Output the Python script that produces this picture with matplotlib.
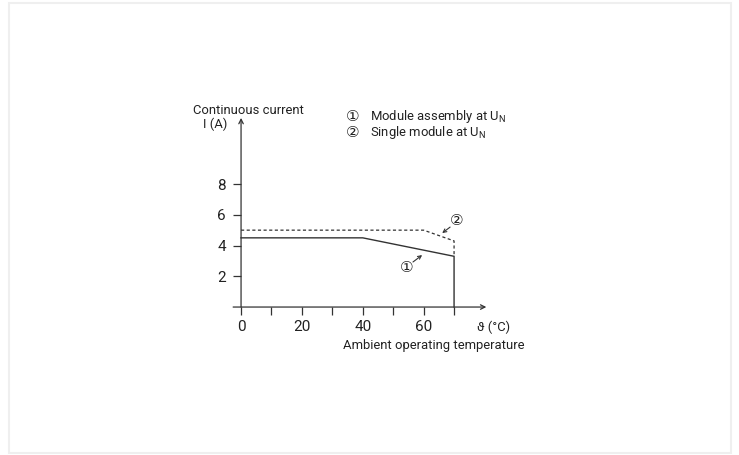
import matplotlib
matplotlib.use("Agg")
import matplotlib.pyplot as plt
from matplotlib.patches import Rectangle

plt.rcParams['font.family'] = ['Roboto', 'DejaVu Sans']
plt.rcParams['mathtext.fontset'] = 'custom'
plt.rcParams['mathtext.rm'] = 'Roboto'

# curve 1: module assembly, curve 2: single module
temp_1 = [0, 40, 70, 70]
current_1 = [4.5, 4.5, 3.3, 0]
temp_2 = [0, 60, 70, 70]
current_2 = [5.0, 5.0, 4.3, 3.3]

x_ticks = [0, 10, 20, 30, 40, 50, 60, 70]
x_labels = ["0", "", "20", "", "40", "", "60", ""]
y_ticks = [2, 4, 6, 8]
y_labels = ["2", "4", "6", "8"]

legend_items = [("①", "Module assembly at $\\mathregular{U_N}$"),
                ("②", "Single module at $\\mathregular{U_N}$")]

col = "#333333"
txt = "#222222"
fs = 9.4

fig = plt.figure(figsize=(7.39, 4.55), dpi=100)
fig.patches.append(Rectangle((8.5 / 739, 2.5 / 455), 722 / 739, 450 / 455,
                             transform=fig.transFigure, fill=False,
                             edgecolor="#efefef", lw=1.5))
ax = fig.add_axes([0.3056, 0.2914, 0.3706, 0.4731])
ax.set_xlim(-5, 85)
ax.set_ylim(-1, 13)
ax.spines['bottom'].set_position(('data', 0))
ax.spines['left'].set_position(('data', 0))
for s in ax.spines.values():
    s.set_visible(False)
ax.patch.set_alpha(0)

# axes with arrows
ax.annotate("", xy=(80.6, 0), xytext=(-2.6, 0),
            arrowprops=dict(arrowstyle="->", color=col, lw=0.9, mutation_scale=8,
                            shrinkA=0, shrinkB=0))
ax.annotate("", xy=(0, 12.3), xytext=(0, 0),
            arrowprops=dict(arrowstyle="->", color=col, lw=0.9, mutation_scale=8,
                            shrinkA=0, shrinkB=0))

ax.set_xticks(x_ticks)
ax.set_xticklabels(x_labels)
ax.set_yticks(y_ticks)
ax.set_yticklabels(y_labels)
ax.tick_params(axis="both", direction="out", length=6, width=0.9, color=col,
               labelsize=11, labelcolor=txt, pad=3)
ax.tick_params(axis="y", pad=5)

ax.plot(temp_1, current_1, color=col, lw=1.0, solid_joinstyle="miter")
ax.plot(temp_2, current_2, color=col, lw=0.9, linestyle=(0, (2.5, 2)))

# annotations on curves
ax.text(71.0, 5.66, "②", fontsize=11, ha="center", va="center", color=txt,
        family="DejaVu Sans")
ax.annotate("", xy=(66.1, 4.81), xytext=(68.7, 5.2),
            arrowprops=dict(arrowstyle="->", color=col, lw=0.8, mutation_scale=6,
                            shrinkA=0, shrinkB=0))
ax.text(54.5, 2.6, "①", fontsize=11, ha="center", va="center", color=txt,
        family="DejaVu Sans")
ax.annotate("", xy=(59.5, 3.38), xytext=(56.5, 2.93),
            arrowprops=dict(arrowstyle="->", color=col, lw=0.8, mutation_scale=6,
                            shrinkA=0, shrinkB=0))

# axis titles
ax.text(-15.8, 12.78, "Continuous current", fontsize=fs, ha="left", va="center", color=txt)
ax.text(-12.5, 11.88, "I (A)", fontsize=fs, ha="left", va="center", color=txt)
ax.text(77.6, -1.3, "ϑ (°C)", fontsize=fs, ha="left", va="center", color=txt)
ax.text(63.4, -2.47, "Ambient operating temperature", fontsize=fs, ha="center",
        va="center", color=txt)

# legend
for i, (num, label) in enumerate(legend_items):
    yy = 12.38 - i * 1.04
    ax.text(36.8, yy, num, fontsize=11, ha="center", va="center", color=txt,
            family="DejaVu Sans")
    ax.text(42.4, yy, label, fontsize=fs, ha="left", va="center", color=txt)

fig.savefig("out.png", dpi=100)
